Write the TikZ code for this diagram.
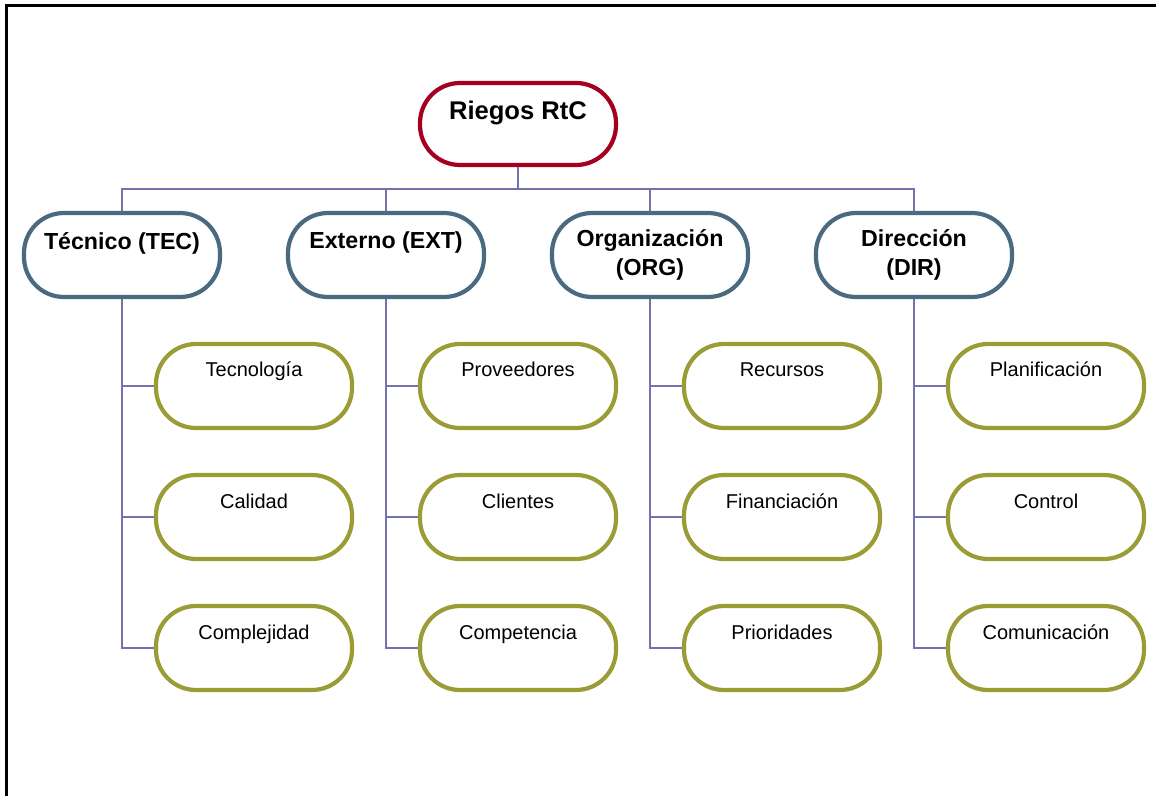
\documentclass[tikz,border=0pt]{standalone}
\usepackage{fontspec}
\setmainfont{Liberation Sans}
\usetikzlibrary{positioning}
\definecolor{rootred}{HTML}{A50021}
\definecolor{slate}{HTML}{4A6A80}
\definecolor{olive}{HTML}{9C9C36}
\definecolor{linkblue}{HTML}{7272AC}

\begin{document}
\begin{tikzpicture}[x=0.5pt,y=-0.5pt,
  box/.style={draw, line width=2.1pt, fill=white, rounded corners=20pt,
    minimum width=98pt, minimum height=42pt, inner sep=0pt},
  root/.style={box, draw=rootred, minimum height=41pt,
    font=\fontsize{12.8}{15}\selectfont\bfseries, text height=10pt, text depth=14pt},
  area/.style={box, draw=slate, align=center,
    font=\fontsize{11.6}{14.5}\selectfont\bfseries},
  leaf/.style={box, draw=olive, font=\fontsize{10}{12}\selectfont,
    text height=8pt, text depth=17pt},
  link/.style={draw=linkblue, line width=0.75pt}]
\useasboundingbox (0,0) rectangle (1156,796);
% marco
\draw[line width=1.5pt] (6,796) -- (6,6) -- (1156,6);

% nivel 0
\node[root] (rtc) at (518,124) {Riegos RtC};
\coordinate (bus) at (518,189);

% nivel 1
\node[area] (tec) at (122,255) {T\'ecnico (TEC)\\\mbox{}};
\node[area] (ext) at (386,255) {Externo (EXT)\\\mbox{}};
\node[area] (org) at (650,255) {Organizaci\'on\\(ORG)};
\node[area] (dir) at (914,255) {Direcci\'on\\(DIR)};

% nivel 2
\node[leaf] (tec1) at (254,386) {Tecnolog\'ia};
\node[leaf] (tec2) at (254,517) {Calidad};
\node[leaf] (tec3) at (254,648) {Complejidad};
\node[leaf] (ext1) at (518,386) {Proveedores};
\node[leaf] (ext2) at (518,517) {Clientes};
\node[leaf] (ext3) at (518,648) {Competencia};
\node[leaf] (org1) at (782,386) {Recursos};
\node[leaf] (org2) at (782,517) {Financiaci\'on};
\node[leaf] (org3) at (782,648) {Prioridades};
\node[leaf] (dir1) at (1046,386) {Planificaci\'on};
\node[leaf] (dir2) at (1046,517) {Control};
\node[leaf] (dir3) at (1046,648) {Comunicaci\'on};

% conexiones
\draw[link] (rtc.south) -- (bus) -| (tec.north);
\draw[link] (bus) -| (ext.north);
\draw[link] (bus) -| (org.north);
\draw[link] (bus) -| (dir.north);

\draw[link] (tec.south) |- (tec1.west);
\draw[link] (tec.south) |- (tec2.west);
\draw[link] (tec.south) |- (tec3.west);
\draw[link] (ext.south) |- (ext1.west);
\draw[link] (ext.south) |- (ext2.west);
\draw[link] (ext.south) |- (ext3.west);
\draw[link] (org.south) |- (org1.west);
\draw[link] (org.south) |- (org2.west);
\draw[link] (org.south) |- (org3.west);
\draw[link] (dir.south) |- (dir1.west);
\draw[link] (dir.south) |- (dir2.west);
\draw[link] (dir.south) |- (dir3.west);
\end{tikzpicture}
\end{document}
